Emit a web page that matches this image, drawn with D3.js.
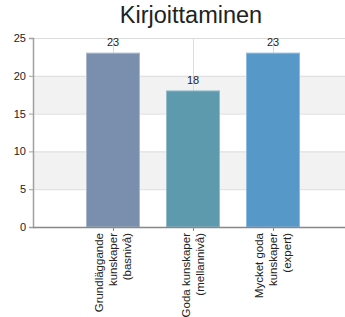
<!DOCTYPE html>
<html>
<head>
<meta charset="utf-8">
<script src="https://cdn.jsdelivr.net/npm/d3@7"></script>
<style>
  body { margin: 0; background: #fff; }
  svg { display: block; font-family: "Liberation Sans", Arial, sans-serif; }
</style>
</head>
<body>
<div id="chart"></div>
<script>
// data
const title = 'Kirjoittaminen';
const categories = [
  ['Grundläggande', 'kunskaper', '(basnivå)'],
  ['Goda kunskaper', '(mellannivå)'],
  ['Mycket goda', 'kunskaper', '(expert)']
];
const values = [23, 18, 23];
const colors = ['#7a8fae', '#5e9aae', '#5698c8'];
const borders = ['#a9b8cd', '#93bccb', '#8dbbe0'];
const yTicks = [0, 5, 10, 15, 20, 25];

const width = 345, height = 317;
const mLeft = 33, mRight = 345, mTop = 38, mBottom = 227;

const svg = d3.select('#chart').append('svg')
  .attr('width', width)
  .attr('height', height);

const y = d3.scaleLinear().domain([0, 25]).range([mBottom, mTop]);
// categories sit at 1, 2, 3 on a linear axis
const x = d3.scaleLinear().domain([0, 4]).range([mLeft, mLeft + 320]);
const barW = 53;

// alternating bands
for (let i = 0; i < yTicks.length - 1; i++) {
  if (i % 2 === 1) {
    svg.append('rect')
      .attr('x', mLeft).attr('width', mRight - mLeft)
      .attr('y', y(yTicks[i + 1])).attr('height', y(yTicks[i]) - y(yTicks[i + 1]))
      .attr('fill', '#f2f2f2');
  }
}

// grid lines
svg.append('g').selectAll('line').data(yTicks.slice(1)).join('line')
  .attr('x1', mLeft).attr('x2', mRight)
  .attr('y1', d => y(d) + 0.5).attr('y2', d => y(d) + 0.5)
  .attr('stroke', '#dcdcdc');

svg.append('g').selectAll('line').data(values).join('line')
  .attr('x1', (d, i) => Math.round(x(i + 1)) + 0.5)
  .attr('x2', (d, i) => Math.round(x(i + 1)) + 0.5)
  .attr('y1', mTop).attr('y2', mBottom)
  .attr('stroke', '#dcdcdc');

// bars
svg.append('g').selectAll('rect').data(values).join('rect')
  .attr('x', (d, i) => x(i + 1) - barW / 2)
  .attr('width', barW)
  .attr('y', d => y(d))
  .attr('height', d => mBottom - y(d))
  .attr('fill', (d, i) => colors[i])
  .attr('stroke', (d, i) => borders[i])
  .attr('stroke-width', 1);

// value labels
svg.append('g').selectAll('text').data(values).join('text')
  .attr('x', (d, i) => x(i + 1))
  .attr('y', d => y(d) - 7)
  .attr('text-anchor', 'middle')
  .attr('font-size', 11)
  .attr('fill', '#222')
  .text(d => d);

// y axis
const yAxis = svg.append('g')
  .attr('transform', `translate(${mLeft},0)`)
  .call(d3.axisLeft(y).tickValues(yTicks).tickSize(4).tickPadding(3));
yAxis.select('.domain').attr('stroke', '#a0a0a0').attr('stroke-width', 1.5);
yAxis.selectAll('.tick line').attr('stroke', '#a0a0a0');
yAxis.selectAll('.tick text').attr('font-size', 11).attr('fill', '#222')
  .attr('font-family', '"Liberation Sans", Arial, sans-serif');

// x axis
const xAxis = svg.append('g')
  .attr('transform', `translate(0,${mBottom})`)
  .call(d3.axisBottom(x).tickValues([1, 2, 3]).tickSize(4).tickFormat(''));
xAxis.select('.domain').attr('d', `M${mLeft},0.5H${mRight}`).attr('stroke', '#888').attr('stroke-width', 1.5);
xAxis.selectAll('.tick line').attr('stroke', '#888');

// rotated category labels
const lineH = 14;
categories.forEach((lines, i) => {
  const cx = x(i + 1);
  const t = svg.append('text')
    .attr('transform', `translate(${cx},${mBottom + 6}) rotate(-90)`)
    .attr('text-anchor', 'end')
    .attr('font-size', 11.5)
    .attr('fill', '#222');
  lines.forEach((s, j) => {
    t.append('tspan')
      .attr('x', 0)
      .attr('y', (j - (lines.length - 1) / 2) * lineH + 4)
      .text(s);
  });
});

// title
svg.append('text')
  .attr('x', 191).attr('y', 23)
  .attr('text-anchor', 'middle')
  .attr('font-size', 23.5)
  .attr('fill', '#222')
  .text(title);
</script>
</body>
</html>
